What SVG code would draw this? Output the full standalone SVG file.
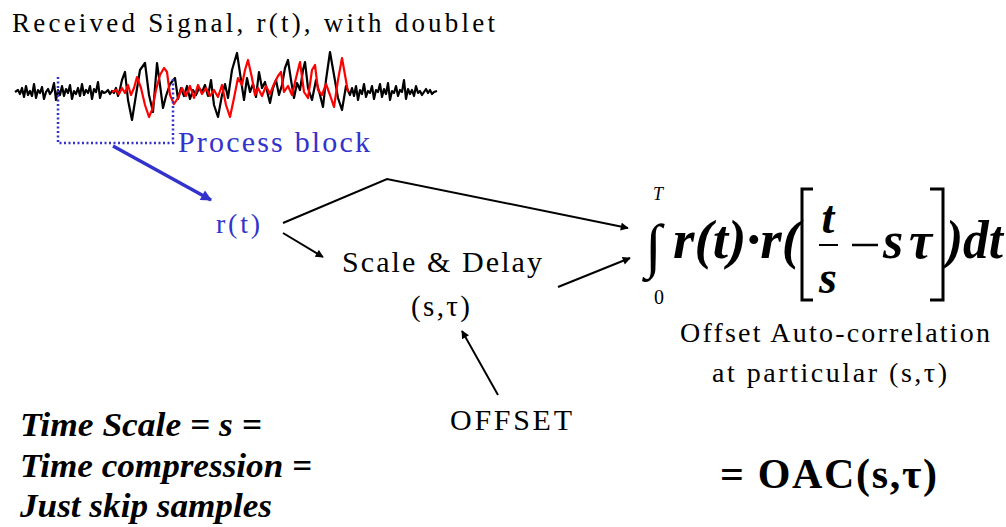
<svg xmlns="http://www.w3.org/2000/svg" width="1006" height="527" viewBox="0 0 1006 527">
<defs>
<marker id="ah" viewBox="0 0 10 10" refX="9" refY="5" markerWidth="10" markerHeight="8" markerUnits="userSpaceOnUse" orient="auto"><path d="M0,0 L10,5 L0,10 z" fill="#000"/></marker>
<marker id="ahb" viewBox="0 0 10 10" refX="9" refY="5" markerWidth="14" markerHeight="11" markerUnits="userSpaceOnUse" orient="auto"><path d="M0,0 L10,5 L0,10 z" fill="#3333cc"/></marker>
<style>
text{font-family:'Liberation Serif','DejaVu Serif',serif}
.t{fill:#000}
.b{fill:#3333cc}
.bi{font-weight:bold;font-style:italic;fill:#000}
.c{stroke:#000;stroke-width:2;fill:none}
.w{fill:none;stroke-width:2.2;stroke-linejoin:round}
</style>
</defs>
<g id="signal">
<text class="t" x="12" y="32" font-size="27" textLength="483" lengthAdjust="spacing">Received Signal, r(t), with doublet</text>
<polyline class="w" stroke="#000" points="15,92 18,90 20,94 22,88 24,97 26,86 28,95 30,91 32,96 34,84 36,98 38,90 40,93 42,87 44,99 46,92 48,89 50,94 52,91 54,83 56,100 58,90 60,95 62,86 64,96 66,89 68,93 70,85 72,99 74,91 76,94 78,88 80,96 82,84 84,95 86,90 88,93 90,86 92,99 94,89 96,92 98,82 100,98 102,91 104,93 106,92 108,90 110,94 112,91 114,93 116,88 118,96 120,89 122,80 125,72 128,100 132,120 136,95 140,70 145,63 149,95 153,112 157,63 160,85 163,108 166,96 170,84 175,78 178,99 181,88 184,96 187,86 190,99 193,90 196,95 199,88 202,92 205,85 208,96 211,80 214,105 218,117 222,95 225,84 228,98 232,70 237,53 241,80 244,100 247,78 250,92 253,84 256,97 259,72 262,88 265,82 268,95 270,103 273,88 276,80 279,95 282,85 285,68 288,60 291,80 294,98 297,83 300,90 303,70 305,62 308,88 312,100 316,80 320,95 323,107 326,80 330,52 334,75 338,98 342,110 346,86 350,95 352,88 354,96 356,86 358,100 360,90 362,94 364,84 366,97 368,91 370,93 372,86 374,99 376,90 378,92 380,84 382,97 384,89 386,94 388,83 390,100 392,91 394,93 396,86 398,96 400,90 402,92 404,80 406,99 408,89 410,94 412,90 414,96 416,86 418,93 420,91 422,95 424,92 426,89 428,93 430,90 432,94 434,92 437,91"/>
<polyline class="w" stroke="#ff0000" points="112,92 116,90 119,94 122,88 125,93 128,85 131,95 134,88 137,77 141,88 145,105 149,117 152,110 156,90 160,75 164,68 167,72 170,95 174,104 178,98 182,88 186,96 190,86 194,98 198,85 202,94 206,88 210,96 214,90 218,97 222,85 226,105 230,117 234,98 238,78 242,85 245,70 248,60 252,78 255,95 258,88 262,96 266,86 270,94 274,84 278,76 281,72 284,92 288,86 292,95 296,78 300,62 304,92 308,98 312,70 315,65 318,90 322,95 326,84 330,95 334,107 338,80 342,58 345,75 348,92"/>
</g>
<g id="process-block">
<polyline points="58,77 58,143 173,143 173,77" fill="none" stroke="#3333cc" stroke-width="2.5" stroke-dasharray="2,2.5"/>
<text class="t b" x="178" y="152" font-size="30" textLength="192" lengthAdjust="spacing">Process block</text>
</g>
<g id="rt">
<text class="t b" x="216" y="233" font-size="28" textLength="44" lengthAdjust="spacing">r(t)</text>
</g>
<g id="scale-delay">
<text class="t" x="342" y="272" font-size="30" textLength="200" lengthAdjust="spacing">Scale &amp; Delay</text>
<text class="t" x="411" y="316" font-size="29" textLength="59" lengthAdjust="spacing">(s,τ)</text>
</g>
<g id="offset">
<text class="t" x="450" y="430" font-size="30" textLength="122" lengthAdjust="spacing">OFFSET</text>
</g>
<g id="integral">
<text class="t" x="653" y="200" font-size="18" font-style="italic">T</text>
<text class="t" x="654" y="304" font-size="20">0</text>
<text class="t" x="645" y="266" font-size="60" font-weight="bold">∫</text>
<text class="bi" x="673" y="258" font-size="55" textLength="127" lengthAdjust="spacingAndGlyphs">r(t)·r(</text>
<polyline points="813,189 802,189 802,300 813,300" fill="none" stroke="#000" stroke-width="3"/>
<text class="bi" x="828" y="233" font-size="46" text-anchor="middle">t</text>
<line x1="819" y1="245" x2="838" y2="245" stroke="#000" stroke-width="2"/>
<text class="bi" x="828" y="293" font-size="46" text-anchor="middle">s</text>
<line x1="852" y1="245" x2="878" y2="245" stroke="#000" stroke-width="2.5"/>
<text class="bi" x="883" y="258" font-size="52">s</text>
<text class="bi" x="909" y="258" font-size="52">τ</text>
<polyline points="930,189 943,189 943,300 930,300" fill="none" stroke="#000" stroke-width="3"/>
<text class="bi" x="946" y="258" font-size="55" textLength="57" lengthAdjust="spacingAndGlyphs">)dt</text>
</g>
<g id="oac-label">
<text class="t" x="680" y="342" font-size="28" textLength="310" lengthAdjust="spacing">Offset Auto-correlation</text>
<text class="t" x="712" y="382" font-size="28" textLength="235" lengthAdjust="spacing">at particular (s,τ)</text>
<text class="t" x="720" y="488" font-size="42" font-weight="bold" textLength="217" lengthAdjust="spacing">= OAC(s,τ)</text>
</g>
<g id="note">
<text class="bi" x="20" y="436" font-size="33" textLength="242" lengthAdjust="spacingAndGlyphs">Time Scale = s =</text>
<text class="bi" x="20" y="477" font-size="33" textLength="292" lengthAdjust="spacingAndGlyphs">Time compression =</text>
<text class="bi" x="20" y="517" font-size="33" textLength="252" lengthAdjust="spacingAndGlyphs">Just skip samples</text>
</g>
<g id="connectors">
<line x1="113" y1="146" x2="211" y2="200" stroke="#3333cc" stroke-width="3.5" marker-end="url(#ahb)"/>
<polyline class="c" points="283,223 387,179 628,228" marker-end="url(#ah)"/>
<line class="c" x1="283" y1="233" x2="323" y2="257" marker-end="url(#ah)"/>
<line class="c" x1="558" y1="287" x2="630" y2="258" marker-end="url(#ah)"/>
<line class="c" x1="498" y1="395" x2="462" y2="331" stroke-width="2.5" marker-end="url(#ah)"/>
</g>
</svg>
